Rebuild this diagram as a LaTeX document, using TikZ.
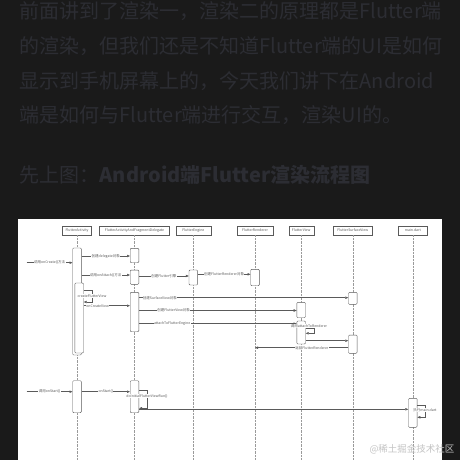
\documentclass[tikz,border=0pt]{standalone}
\usepackage{fontspec}
\setmainfont{Noto Sans CJK SC}
\usepackage{tikz}
\usetikzlibrary{arrows.meta}

\definecolor{pagebg}{HTML}{1A1A1A}
\definecolor{pagetext}{HTML}{2C2D33}
\definecolor{linegray}{HTML}{5A5A5A}
\definecolor{dotgray}{HTML}{9A9A9A}
\definecolor{marktext}{HTML}{C4C4C4}

\begin{document}
\begin{tikzpicture}[x=1pt, y=-1pt,
    para/.style={anchor=base west, inner sep=0pt, text=pagetext, font=\fontsize{20}{20}\selectfont},
    header/.style={rectangle, draw=linegray, fill=white, minimum height=8.5pt, inner sep=0pt, text=linegray, font=\fontsize{3.5}{4}\selectfont},
    act/.style={rectangle, draw=linegray, fill=white, rounded corners=1pt, minimum width=8.6pt, inner sep=0pt},
    lifeline/.style={dotgray, densely dotted, line width=0.4pt},
    arrow/.style={-{Triangle[length=3pt, width=2.4pt]}, linegray, line width=0.5pt},
    msg/.style={fill=white, inner sep=0.4pt, text=linegray, font=\fontsize{3.5}{4}\selectfont}
]

% Page
\fill[pagebg] (0,0) rectangle (460,460);
\useasboundingbox (0,0) rectangle (460,460);

% Article text
\node[para] (line1) at (19.5,18.5) {前面讲到了渲染一，渲染二的原理都是Flutter端};
\node[para] (line2) at (19.5,53) {的渲染，但我们还是不知道Flutter端的UI是如何};
\node[para] (line3) at (19.5,88) {显示到手机屏幕上的，今天我们讲下在Android};
\node[para] (line4) at (19.5,122.5) {端是如何与Flutter端进行交互，渲染UI的。};
\node[para] (title) at (19.5,182) {先上图：\textbf{Android端Flutter渲染流程图}};

% Diagram sheet
\fill[white] (18,219) rectangle (442,460);
\coordinate (bottom) at (0,460);

% Participants
\node[header, minimum width=29pt] (hAct) at (77,230.5) {FlutterActivity};
\node[header, minimum width=70pt] (hDel) at (134.5,230.5) {FlutterActivityAndFragmentDelegate};
\node[header, minimum width=35pt] (hEng) at (193.3,230.5) {FlutterEngine};
\node[header, minimum width=36pt] (hRen) at (255,230.5) {FlutterRenderer};
\node[header, minimum width=25pt] (hView) at (301.2,230.5) {FlutterView};
\node[header, minimum width=39pt] (hSurf) at (352.8,230.5) {FlutterSurfaceView};
\node[header, minimum width=29pt] (hMain) at (412.8,230.5) {main.dart};

% Lifelines
\draw[lifeline] (hAct.south) -- (hAct.south |- bottom);
\draw[lifeline] (hDel.south) -- (hDel.south |- bottom);
\draw[lifeline] (hEng.south) -- (hEng.south |- bottom);
\draw[lifeline] (hRen.south) -- (hRen.south |- bottom);
\draw[lifeline] (hView.south) -- (hView.south |- bottom);
\draw[lifeline] (hSurf.south) -- (hSurf.south |- bottom);
\draw[lifeline] (hMain.south) -- (hMain.south |- bottom);

% Activations
\node[act, minimum height=107pt] (aAct1) at (77,301.5) {};
\node[act, minimum height=70pt] (aAct2) at (79.2,318) {};
\node[act, minimum height=32pt] (aAct3) at (77,396.7) {};
\node[act, minimum height=14.4pt] (aDel1) at (134.5,255.5) {};
\node[act, minimum height=14.3pt] (aDel2) at (134.5,277.2) {};
\node[act, minimum height=39.4pt] (aDel3) at (134.5,312) {};
\node[act, minimum height=32pt] (aDel4) at (134.5,396.7) {};
\node[act, minimum height=15pt] (aEng1) at (193.3,277.5) {};
\node[act, minimum height=16.4pt] (aRen1) at (255,277.5) {};
\node[act, minimum height=12pt] (aSurf1) at (352.8,298.3) {};
\node[act, minimum height=18.3pt] (aSurf2) at (352.8,344.2) {};
\node[act, minimum height=15.4pt] (aView1) at (301.2,310) {};
\node[act, minimum height=23pt] (aView2) at (301.2,332.5) {};
\node[act, minimum height=29pt] (aMain1) at (412.8,412.8) {};

% Entry points
\coordinate (inCreate) at (26.7,262.7);
\coordinate (inStart) at (26.7,391.7);

% onCreate
\draw[arrow] (inCreate) -- node[msg] {调用onCreate()方法} (aAct1.west |- inCreate);
\draw[arrow] (aAct1.east |- 0,256) -- node[msg] {创建delegate对象} (aDel1.west |- 0,256);
\draw[arrow] (aAct1.east |- 0,275) -- node[msg] {调用onAttach()方法} (aDel2.west |- 0,275);
\draw[arrow] (aDel2.east |- 0,276) -- node[msg] {创建Flutter引擎} (aEng1.west |- 0,276);
\draw[arrow] (aEng1.east |- 0,274.3) -- node[msg] {创建FlutterRenderer对象} (aRen1.west |- 0,274.3);
\draw[arrow] (aAct2.east |- 0,290) -- ++(8.5,0) -- ++(0,12) -- ++(-8.5,0);
\node[msg] (lblCreateView) at (92,296) {createFlutterView};
\draw[arrow] (aAct2.east |- 0,305.7) -- node[msg, pos=0.3] {onCreateView} (aDel3.west |- 0,305.7);
\draw[arrow] (aDel3.east |- 0,297.7) -- node[msg, pos=0.1] {创建SurfaceView对象} (aSurf1.west |- 0,297.7);
\draw[arrow] (aDel3.east |- 0,310.5) -- node[msg, pos=0.22] {创建FlutterView对象} (aView1.west |- 0,310.5);
\draw[arrow] (aDel3.east |- 0,323.7) -- node[msg, pos=0.21] {attachToFlutterEngine} (aView2.west |- 0,323.7);
\draw[arrow] (aView2.east |- 0,328.5) -- ++(8.3,0) -- ++(0,4.8) -- ++(-8.3,0);
\node[msg] (lblAttach) at (309,326.3) {调用attachToRenderer};
\draw[arrow] (aView2.east |- 0,340.7) -- (aSurf2.west |- 0,340.7);
\draw[arrow] (aSurf2.west |- 0,347.7) -- node[msg, pos=0.39] {返回FlutterRenderer} (hRen.south |- 0,347.7);

% onStart
\draw[arrow] (inStart) -- node[msg] {调用onStart()} (aAct3.west |- inStart);
\draw[arrow] (aAct3.east |- 0,391.7) -- node[msg] {onStart()} (aDel4.west |- 0,391.7);
\draw[arrow] (aDel4.east |- 0,390.7) -- ++(8.7,0) -- ++(0,17.6) -- ++(-8.7,0);
\node[msg] (lblInitRun) at (147,396) {doInitialFlutterViewRun()};
\draw[arrow] (aDel4.east |- 0,409.3) -- (aMain1.west |- 0,409.3);
\draw[arrow] (aMain1.east |- 0,405) -- ++(7.7,0) -- ++(0,12.3) -- ++(-7.7,0);
\node[msg] (lblMain) at (425,410) {执行main.dart};

% Watermark
\node[text=marktext, font=\fontsize{9.5}{10}\selectfont, inner sep=0pt] (mark) at (412,449.5) {@稀土掘金技术社区};

\end{tikzpicture}
\end{document}
